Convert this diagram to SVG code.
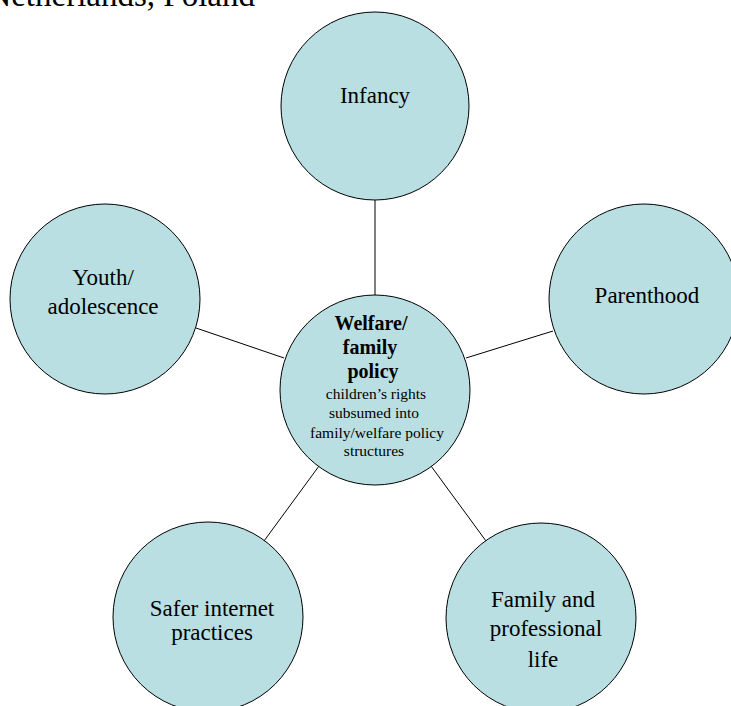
<svg xmlns="http://www.w3.org/2000/svg" width="731" height="706" viewBox="0 0 731 706">
<style>
.n{fill:#B9DFE2;stroke:#000;stroke-width:1}
.c{stroke:#000;stroke-width:1;fill:none}
</style>
<rect width="731" height="706" fill="#fff"/>
<g font-family="'Liberation Serif', 'Times New Roman', serif" fill="#000" text-anchor="middle">
<text x="255" y="6" font-size="33" text-anchor="end">Netherlands, Poland</text>
<g id="connectors">
<line class="c" x1="375" y1="200" x2="375" y2="295"/>
<line class="c" x1="196" y1="328" x2="284" y2="358"/>
<line class="c" x1="553" y1="331" x2="466" y2="358"/>
<line class="c" x1="264" y1="541" x2="319" y2="466"/>
<line class="c" x1="486" y1="541" x2="431" y2="466"/>
</g>
<g id="infancy" font-size="23"><circle class="n" cx="375" cy="106" r="94"/><text x="375" y="103">Infancy</text></g>
<g id="youth" font-size="23"><circle class="n" cx="105" cy="299" r="95"/><text x="103" y="285">Youth/</text><text x="103" y="314">adolescence</text></g>
<g id="parenthood" font-size="23"><circle class="n" cx="644" cy="299" r="95"/><text x="647" y="303">Parenthood</text></g>
<g id="center"><circle class="n" cx="375" cy="390" r="95"/>
<g font-size="20" font-weight="bold">
<text x="371" y="330">Welfare/</text>
<text x="370" y="354">family</text>
<text x="373" y="378">policy</text>
</g>
<g font-size="15.5">
<text x="376" y="399">children’s rights</text>
<text x="374" y="418">subsumed into</text>
<text x="377" y="438">family/welfare policy</text>
<text x="374" y="456">structures</text>
</g>
</g>
<g id="safer" font-size="23"><circle class="n" cx="208" cy="617" r="95"/><text x="212" y="616">Safer internet</text><text x="212" y="640">practices</text></g>
<g id="family" font-size="23"><circle class="n" cx="541" cy="618" r="95"/><text x="543" y="607">Family and</text><text x="546" y="636">professional</text><text x="543" y="667">life</text></g>
</g>
</svg>
